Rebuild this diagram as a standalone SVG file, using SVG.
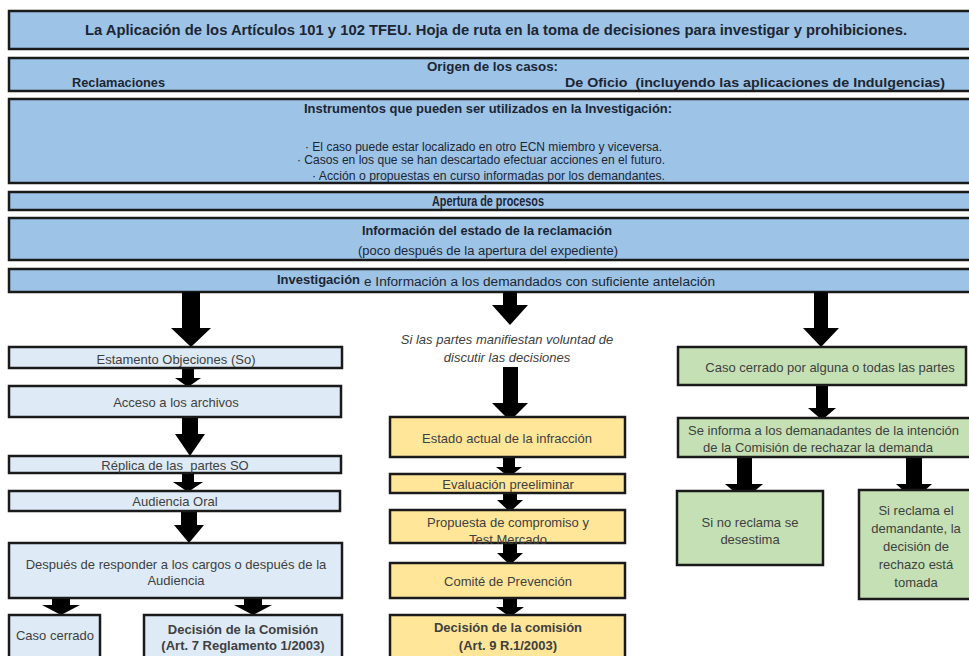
<svg xmlns="http://www.w3.org/2000/svg" width="969" height="656" viewBox="0 0 969 656">
<style>
.bn{fill:#9dc3e6;stroke:#1a1a1a;stroke-width:2.5}
.lb{fill:#deebf7;stroke:#1a1a1a;stroke-width:2.5}
.yb{fill:#ffe699;stroke:#1a1a1a;stroke-width:2.5}
.gb{fill:#c5e0b4;stroke:#1a1a1a;stroke-width:2.5}
.bt{font-family:'Liberation Sans Narrow','Liberation Sans',Arial,sans-serif;fill:#1c2633;font-weight:bold}
.br{font-family:'Liberation Sans Narrow','Liberation Sans',Arial,sans-serif;fill:#1c2633}
.t{font-family:'Liberation Sans',Arial,sans-serif;font-size:13px;fill:#404040;text-anchor:middle}
.tb{font-weight:bold}
.it{font-style:italic}
.ar{fill:#000}
</style>
<g id="title"><rect class="bn" x="9" y="11" width="970" height="38"/>
<text class="bt" x="85" y="35" font-size="14" textLength="822" lengthAdjust="spacingAndGlyphs">La Aplicación de los Artículos 101 y 102 TFEU. Hoja de ruta en la toma de decisiones para  investigar y prohibiciones.</text></g>
<g id="origen"><rect class="bn" x="9" y="58" width="970" height="33"/>
<text class="bt" x="427" y="71" font-size="13" textLength="131" lengthAdjust="spacingAndGlyphs">Origen de los casos:</text>
<text class="bt" x="72" y="87" font-size="13" textLength="93" lengthAdjust="spacingAndGlyphs">Reclamaciones</text>
<text class="bt" x="565" y="87" font-size="13" textLength="380" lengthAdjust="spacingAndGlyphs" style="white-space:pre">De Oficio  (incluyendo las aplicaciones de Indulgencias)</text></g>
<g id="instrumentos"><rect class="bn" x="9" y="99" width="970" height="84"/>
<text class="bt" x="304" y="113" font-size="13" textLength="368" lengthAdjust="spacingAndGlyphs">Instrumentos que pueden ser utilizados en la Investigación:</text>
<text class="br" x="305" y="151" font-size="12.5" textLength="357" lengthAdjust="spacingAndGlyphs">· El caso puede estar localizado en otro ECN miembro y viceversa.</text>
<text class="br" x="297" y="164" font-size="12.5" textLength="368" lengthAdjust="spacingAndGlyphs">· Casos en los que se han descartado efectuar acciones en el futuro.</text>
<text class="br" x="312" y="180" font-size="12.5" textLength="353" lengthAdjust="spacingAndGlyphs">· Acción o propuestas en curso informadas por los demandantes.</text></g>
<g id="apertura"><rect class="bn" x="9" y="192" width="970" height="18"/>
<text class="bt" x="432" y="206" font-size="14" textLength="112" lengthAdjust="spacingAndGlyphs">Apertura de procesos</text></g>
<g id="informacion"><rect class="bn" x="9" y="218" width="970" height="42"/>
<text class="bt" x="362" y="235" font-size="13" textLength="250" lengthAdjust="spacingAndGlyphs">Información del estado de la reclamación</text>
<text class="br" x="358" y="255" font-size="12.5" textLength="260" lengthAdjust="spacingAndGlyphs">(poco después de la apertura del expediente)</text></g>
<g id="investigacion"><rect class="bn" x="9" y="269" width="970" height="23"/>
<text class="bt" x="277" y="284" font-size="13.5" textLength="83" lengthAdjust="spacingAndGlyphs">Investigación</text>
<text class="br" x="364" y="286" font-size="12.5" textLength="351" lengthAdjust="spacingAndGlyphs">e Información a los demandados con suficiente antelación</text></g>

<g id="connectors">
<polygon class="ar" points="182,292 200,292 200,328 211,328 191,347 171,328 182,328"/>
<polygon class="ar" points="182,368 194,368 194,378 201,378 188,387 175,378 182,378"/>
<polygon class="ar" points="182,417 198,417 198,434 205,434 190,456 175,434 182,434"/>
<polygon class="ar" points="182,473 194,473 194,482 203,482 188,492 173,482 182,482"/>
<polygon class="ar" points="181,512 197,512 197,525 204,525 189,543 174,525 181,525"/>
<polygon class="ar" points="52,598 70,598 70,605 80,605 61,615 42,605 52,605"/>
<polygon class="ar" points="244,598 262,598 262,605 272,605 253,615 234,605 244,605"/>
<polygon class="ar" points="503,292 517,292 517,305 528,305 510,325 492,305 503,305"/>
<polygon class="ar" points="503,367 518,367 518,403 528,403 510,421 492,403 503,403"/>
<polygon class="ar" points="503,457 515,457 515,467 522,467 509,477 496,467 503,467"/>
<polygon class="ar" points="503,493 517,493 517,500 523,500 510,512 497,500 503,500"/>
<polygon class="ar" points="503,543 517,543 517,553 523,553 510,565 497,553 503,553"/>
<polygon class="ar" points="503,598 517,598 517,607 524,607 510,617 496,607 503,607"/>
<polygon class="ar" points="814,292 828,292 828,328 839,328 821,347 803,328 814,328"/>
<polygon class="ar" points="816,385 828,385 828,408 836,408 822,420 808,408 816,408"/>
<polygon class="ar" points="737,457 752,457 752,484 763,484 744,500 725,484 737,484"/>
<polygon class="ar" points="906,457 922,457 922,484 932,484 914,500 896,484 906,484"/>
</g>

<g id="estamento"><rect class="lb" x="9" y="347" width="333" height="21"/>
<text class="t" x="176" y="364">Estamento Objeciones (So)</text></g>
<g id="acceso"><rect class="lb" x="9" y="386" width="332" height="31"/>
<text class="t" x="176" y="407">Acceso a los archivos</text></g>
<g id="replica"><rect class="lb" x="9" y="456" width="332" height="17"/>
<text class="t" x="175" y="470" style="white-space:pre">Réplica de las  partes SO</text></g>
<g id="audiencia"><rect class="lb" x="9" y="491" width="331" height="20"/>
<text class="t" x="175" y="506">Audiencia Oral</text></g>
<g id="despues"><rect class="lb" x="9" y="543" width="333" height="55"/>
<text class="t" x="176" y="569">Después de responder a los cargos o después de la</text>
<text class="t" x="176" y="585">Audiencia</text></g>
<g id="caso-cerrado"><rect class="lb" x="9" y="615" width="91" height="50"/>
<text class="t" x="55" y="640">Caso cerrado</text></g>
<g id="decision-comision"><rect class="lb" x="144" y="615" width="198" height="50"/>
<text class="t tb" x="243" y="634">Decisión de la Comisión</text>
<text class="t tb" x="243" y="650">(Art. 7 Reglamento 1/2003)</text></g>

<g id="condicion"><text class="t it" x="507" y="344" font-size="12">Si las partes manifiestan voluntad de</text>
<text class="t it" x="507" y="362" font-size="12">discutir las decisiones</text></g>
<g id="estado"><rect class="yb" x="390" y="417" width="235" height="40"/>
<text class="t" x="507" y="443">Estado actual de la infracción</text></g>
<g id="evaluacion"><rect class="yb" x="390" y="474" width="235" height="19"/>
<text class="t" x="508" y="489">Evaluación preeliminar</text></g>
<g id="propuesta"><rect class="yb" x="390" y="510" width="235" height="33"/>
<text class="t" x="508" y="527">Propuesta de compromiso y</text>
<text class="t" x="508" y="544">Test Mercado</text></g>
<g id="comite"><rect class="yb" x="390" y="563" width="235" height="35"/>
<text class="t" x="508" y="586">Comité de Prevención</text></g>
<g id="decision-comision-9"><rect class="yb" x="390" y="615" width="235" height="50"/>
<text class="t tb" x="508" y="632">Decisión de la comisión</text>
<text class="t tb" x="508" y="650">(Art. 9 R.1/2003)</text></g>

<g id="caso-cerrado-partes"><rect class="gb" x="678" y="347" width="288" height="38"/>
<text class="t" x="830" y="372">Caso cerrado por alguna o todas las partes</text></g>
<g id="se-informa"><rect class="gb" x="678" y="418" width="300" height="39"/>
<text class="t" x="688" y="435" style="text-anchor:start">Se informa a los demanadantes de la intención</text>
<text class="t" x="818" y="452">de la Comisión de rechazar la demanda</text></g>
<g id="no-reclama"><rect class="gb" x="677" y="491" width="146" height="74"/>
<text class="t" x="750" y="527">Si no reclama se</text>
<text class="t" x="750" y="544">desestima</text></g>
<g id="reclama"><rect class="gb" x="859" y="490" width="120" height="109"/>
<text class="t" x="916" y="515" font-size="12.5">Si reclama el</text>
<text class="t" x="916" y="533" font-size="12.5">demandante, la</text>
<text class="t" x="916" y="551" font-size="12.5">decisión de</text>
<text class="t" x="916" y="569" font-size="12.5">rechazo está</text>
<text class="t" x="916" y="587" font-size="12.5">tomada</text></g>
</svg>
